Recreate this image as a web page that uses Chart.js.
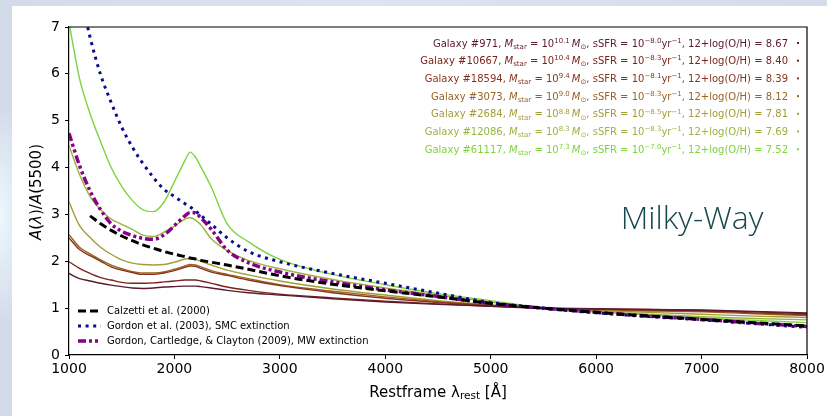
<!DOCTYPE html>
<html lang="en">
<head>
<meta charset="UTF-8">
<title>Dust attenuation curves</title>
<style>
  html, body { margin: 0; padding: 0; }
  body {
    width: 827px;
    height: 416px;
    overflow: hidden;
    position: relative;
    background:
      radial-gradient(ellipse 30px 110px at 0px 215px, rgba(238,250,255,0.95), rgba(238,250,255,0) 100%),
      linear-gradient(90deg, #d3dbe9 0%, #dde4ef 45%, #d4dcea 100%);
  }
  #panel {
    position: absolute;
    left: 12px;
    top: 6px;
    width: 815px;
    height: 410px;
    background: #fff;
  }
</style>
<script src="https://cdn.jsdelivr.net/npm/chart.js"></script>
</head>
<body>
<div id="panel"><canvas id="extChart" width="815" height="410"></canvas></div>

<script>
// rest-frame wavelength grid in Angstrom
const wavelengths = [1000, 1100, 1200, 1300, 1400, 1500, 1600, 1700, 1800, 1900, 2000, 2100, 2150, 2200, 2250,
                     2350, 2500, 2700, 3000, 3500, 4000, 4500, 5000, 5500, 6000, 6500, 7000, 7500, 8000];

// reference laws, normalised at 5500 A
const calzetti = [null, null, 2.97, 2.8, 2.66, 2.54, 2.44, 2.35, 2.28, 2.21, 2.15, 2.1, 2.07, 2.05, 2.02,
                  1.98, 1.92, 1.83, 1.69, 1.51, 1.37, 1.24, 1.1, 1.0, 0.91, 0.83, 0.76, 0.69, 0.62];
const smc = [8.9, 7.8, 6.78, 5.98, 5.39, 4.86, 4.44, 4.09, 3.79, 3.54, 3.38, 3.23, 3.16, 3.07, 2.98,
             2.79, 2.5, 2.21, 1.99, 1.74, 1.53, 1.32, 1.12, 1.0, 0.9, 0.82, 0.75, 0.67, 0.59];
const mw = [4.73, 4.04, 3.5, 3.1, 2.8, 2.64, 2.55, 2.49, 2.47, 2.56, 2.76, 2.97, 3.04, 3.03, 2.93,
            2.68, 2.24, 1.97, 1.77, 1.56, 1.39, 1.25, 1.1, 1.0, 0.91, 0.83, 0.76, 0.68, 0.61];

// per-galaxy curves
const g971   = [1.74, 1.63, 1.58, 1.53, 1.49, 1.46, 1.43, 1.42, 1.43, 1.45, 1.46, 1.47, 1.47, 1.47, 1.46,
                1.43, 1.38, 1.33, 1.28, 1.2, 1.13, 1.08, 1.04, 1.0, 0.99, 0.97, 0.96, 0.93, 0.9];
const g10667 = [1.99, 1.85, 1.74, 1.65, 1.6, 1.55, 1.53, 1.53, 1.54, 1.56, 1.58, 1.6, 1.6, 1.6, 1.58,
                1.53, 1.45, 1.38, 1.3, 1.22, 1.15, 1.09, 1.04, 1.0, 0.98, 0.97, 0.95, 0.92, 0.88];
const g18594 = [2.5, 2.25, 2.12, 2.0, 1.88, 1.81, 1.76, 1.72, 1.72, 1.75, 1.8, 1.87, 1.9, 1.89, 1.85,
                1.77, 1.7, 1.6, 1.48, 1.33, 1.21, 1.12, 1.05, 1.0, 0.98, 0.96, 0.94, 0.9, 0.86];
const g3073  = [2.57, 2.3, 2.16, 2.03, 1.92, 1.84, 1.78, 1.75, 1.75, 1.77, 1.83, 1.9, 1.93, 1.92, 1.88,
                1.8, 1.72, 1.63, 1.5, 1.36, 1.24, 1.14, 1.06, 1.0, 0.97, 0.94, 0.92, 0.88, 0.84];
const g2684  = [3.27, 2.76, 2.51, 2.3, 2.15, 2.03, 1.96, 1.93, 1.92, 1.93, 1.98, 2.05, 2.06, 2.04, 2.0,
                1.92, 1.81, 1.71, 1.58, 1.41, 1.28, 1.16, 1.07, 1.0, 0.95, 0.91, 0.87, 0.83, 0.8];
const g12086 = [4.47, 3.85, 3.38, 3.1, 2.9, 2.79, 2.68, 2.56, 2.53, 2.62, 2.75, 2.9, 2.93, 2.88, 2.78,
                2.48, 2.23, 2.02, 1.84, 1.61, 1.43, 1.28, 1.13, 1.0, 0.93, 0.87, 0.82, 0.78, 0.75];
const g61117 = [7.1, 5.9, 5.15, 4.55, 4.0, 3.6, 3.3, 3.1, 3.06, 3.26, 3.7, 4.15, 4.33, 4.22, 4.02,
                3.58, 2.8, 2.42, 2.04, 1.72, 1.5, 1.31, 1.16, 1.0, 0.92, 0.85, 0.79, 0.74, 0.69];

// galaxy properties shown in the legend
const galaxyIds   = ['971', '10667', '18594', '3073', '2684', '12086', '61117'];
const logMstar    = ['10.1', '10.4', '9.4', '9.0', '8.8', '8.3', '7.3'];
const logSSFR     = ['\u22128.0', '\u22128.3', '\u22128.1', '\u22128.3', '\u22128.5', '\u22128.3', '\u22127.0'];
const metallicity = ['8.67', '8.40', '8.39', '8.12', '7.81', '7.69', '7.52'];
const galaxyCurves = [g971, g10667, g18594, g3073, g2684, g12086, g61117];
const galaxyColors = ['#5a1a30', '#7a2419', '#87341f', '#9b6322', '#a49c36', '#98b53f', '#7dd33c'];

const refLabels = ['Calzetti et al. (2000)', 'Gordon et al. (2003), SMC extinction',
                   'Gordon, Cartledge, & Clayton (2009), MW extinction'];

const FAM = "'DejaVu Sans', sans-serif";

function toPoints(vals) {
  const pts = [];
  wavelengths.forEach((w, i) => { if (vals[i] !== null) pts.push({ x: w, y: vals[i] }); });
  return pts;
}

const refStyles = [
  { data: calzetti, color: '#000000', width: 3, dash: [8, 4] },
  { data: smc, color: '#0c0c8c', width: 3, dash: [3, 4.6] },
  { data: mw, color: '#880088', width: 3.5, dash: [8, 3, 3, 3, 3, 3] }
];

const datasets = [];
refStyles.forEach((r, i) => {
  datasets.push({
    label: refLabels[i],
    data: toPoints(r.data),
    borderColor: r.color,
    borderWidth: r.width,
    borderDash: r.dash,
    borderCapStyle: 'butt',
    order: i
  });
});
galaxyCurves.forEach((c, i) => {
  datasets.push({
    label: 'Galaxy #' + galaxyIds[i],
    data: toPoints(c),
    borderColor: galaxyColors[i],
    borderWidth: 1.4,
    order: 10 + i
  });
});

// text with italic / sub / superscript pieces
function richText(ctx, parts, x, y, size, align) {
  const fontFor = k => (k.indexOf('i') >= 0 ? 'italic ' : '') +
    ((k.indexOf('b') >= 0 || k.indexOf('p') >= 0) ? size * 0.7 : size) + 'px ' + FAM;
  let w = 0;
  parts.forEach(([t, k]) => { ctx.font = fontFor(k); w += ctx.measureText(t).width; });
  let cx = align === 'right' ? x - w : align === 'center' ? x - w / 2 : x;
  ctx.textAlign = 'left';
  parts.forEach(([t, k]) => {
    ctx.font = fontFor(k);
    let dy = 0;
    if (k.indexOf('b') >= 0) dy = size * 0.22;
    if (k.indexOf('p') >= 0) dy = -size * 0.38;
    ctx.fillText(t, cx, y + dy);
    cx += ctx.measureText(t).width;
  });
  return w;
}

const decorations = {
  id: 'decorations',
  afterDraw(chart) {
    const ctx = chart.ctx;
    const area = chart.chartArea;
    ctx.save();

    // top and right frame
    ctx.strokeStyle = '#000';
    ctx.lineWidth = 1.2;
    ctx.beginPath();
    ctx.moveTo(area.left, area.top);
    ctx.lineTo(area.right, area.top);
    ctx.lineTo(area.right, area.bottom);
    ctx.stroke();

    // axis titles
    ctx.fillStyle = '#000';
    ctx.textBaseline = 'middle';
    richText(ctx, [['Restframe ', ''], ['\u03bb', ''], ['rest', 'b'], [' [\u00c5]', '']],
             (area.left + area.right) / 2, 387, 15, 'center');
    ctx.save();
    ctx.translate(25, (area.top + area.bottom) / 2 + 1);
    ctx.rotate(-Math.PI / 2);
    richText(ctx, [['A', 'i'], ['(', ''], ['\u03bb', 'i'], [')/', ''], ['A', 'i'], ['(5500)', '']], 0, 0, 15, 'center');
    ctx.restore();

    // galaxy legend, top right
    ctx.textBaseline = 'alphabetic';
    galaxyIds.forEach((id, i) => {
      const y = 40.5 + 17.7 * i;
      ctx.fillStyle = galaxyColors[i];
      richText(ctx, [
        ['Galaxy #' + id + ', ', ''], ['M', 'i'], ['star', 'b'], [' = 10', ''], [logMstar[i], 'p'],
        ['\u2009', ''], ['M', 'i'], ['\u2299', 'b'], [', sSFR = 10', ''], [logSSFR[i], 'p'],
        ['yr', ''], ['\u22121', 'p'], [', 12+log(O/H) = ' + metallicity[i], '']
      ], 776, y, 10, 'right');
      ctx.fillRect(785, y - 4.5, 2, 2);
    });

    // reference legend, bottom left
    refStyles.forEach((r, i) => {
      const y = 305 + 15 * i;
      ctx.strokeStyle = r.color;
      ctx.lineWidth = r.width;
      ctx.lineCap = 'butt';
      ctx.setLineDash(r.dash);
      ctx.beginPath();
      ctx.moveTo(66, y);
      ctx.lineTo(89, y);
      ctx.stroke();
      ctx.setLineDash([]);
      ctx.fillStyle = '#000';
      ctx.font = '10px ' + FAM;
      ctx.textBaseline = 'middle';
      ctx.fillText(refLabels[i], 95, y);
    });

    // big label
    ctx.fillStyle = '#17474b';
    ctx.textAlign = 'center';
    ctx.textBaseline = 'alphabetic';
    ctx.font = "300 32px 'Open Sans', sans-serif";
    ctx.fillText('Milky-Way', 680, 223);

    ctx.restore();
  }
};

const tickFont = { family: FAM, size: 14 };

new Chart(document.getElementById('extChart'), {
  type: 'line',
  data: { datasets: datasets },
  options: {
    responsive: false,
    devicePixelRatio: 1,
    animation: false,
    layout: { padding: { top: 21, right: 20, left: 0, bottom: 0 } },
    elements: {
      point: { radius: 0 },
      line: { cubicInterpolationMode: 'monotone', fill: false }
    },
    plugins: {
      legend: { display: false },
      tooltip: { enabled: false }
    },
    scales: {
      x: {
        type: 'linear',
        min: 1000,
        max: 8000,
        afterFit: s => { s.height = 61; },
        ticks: { stepSize: 1000, color: '#000', font: tickFont, padding: 2, maxRotation: 0,
                 callback: v => String(v) },
        grid: { drawOnChartArea: false, color: '#000', tickLength: 4 },
        border: { color: '#000', width: 1.2 }
      },
      y: {
        min: 0,
        max: 7,
        afterFit: s => { s.width = 57; },
        ticks: { stepSize: 1, color: '#000', font: tickFont, padding: 5 },
        grid: { drawOnChartArea: false, color: '#000', tickLength: 4 },
        border: { color: '#000', width: 1.2 }
      }
    }
  },
  plugins: [decorations]
});
</script>
</body>
</html>
